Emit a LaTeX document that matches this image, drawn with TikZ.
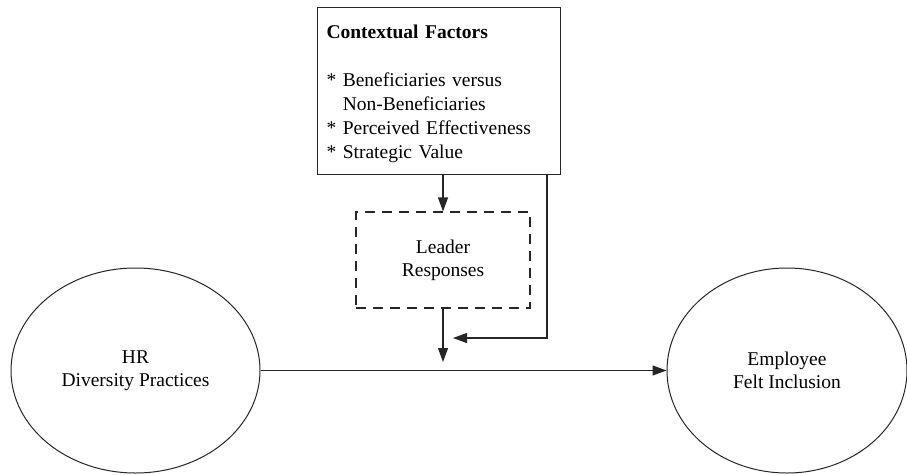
\documentclass[tikz,border=0pt]{standalone}
\usepackage{fontspec}
\setmainfont{Liberation Serif}
\usetikzlibrary{arrows.meta,shapes.geometric}
\begin{document}
\begin{tikzpicture}[x=1pt,y=-1pt,
  line/.style={draw=black!85, line width=1.1pt},
  arr/.style={line, -{Triangle[length=14pt,width=10pt]}},
  oval/.style={draw=black!85, line width=1pt, ellipse, minimum height=205pt, align=center, font=\fontsize{19.5}{23}\selectfont, inner sep=0pt},
  txt/.style={font=\fontsize{19.5}{24}\selectfont}
]
\useasboundingbox (0,0) rectangle (907,474);
% Contextual factors box
\node[draw=black!85, line width=1.1pt, anchor=north west, minimum width=238pt, minimum height=167pt,
      text width=225pt, inner xsep=9pt, inner ysep=0pt, align=left, txt] (ctx) at (317,7)
  {\rule{0pt}{20pt}\textbf{Contextual Factors}\\[24pt]
   {*} Beneficiaries versus\\
   \phantom{* }Non-Beneficiaries\\
   {*} Perceived Effectiveness\\
   {*} Strategic Value};
% Leader responses
\node[draw=black!85, line width=1.1pt, dash pattern=on 10pt off 7pt, minimum width=174pt, minimum height=96pt,
      align=center, font=\fontsize{19.5}{23}\selectfont] (lr) at (443,260) {Leader\\Responses};
% Ellipses
\node[oval, minimum width=249pt] (hr) at (135.5,370.5) {HR\\Diversity Practices};
\node[oval, minimum width=240pt] (emp) at (787,370.5) {Employee\\Felt Inclusion};
% connectors
\coordinate (rt) at (547,174);
\coordinate (t1) at (443,362);
\coordinate (t2) at (453,338);
\draw[arr] (ctx.south -| lr.north) -- (lr.north);
\draw[arr] (rt) |- (t2);
\draw[arr] (lr.south) -- (t1);
\draw[arr] (hr.east) -- (emp.west);
\end{tikzpicture}
\end{document}
